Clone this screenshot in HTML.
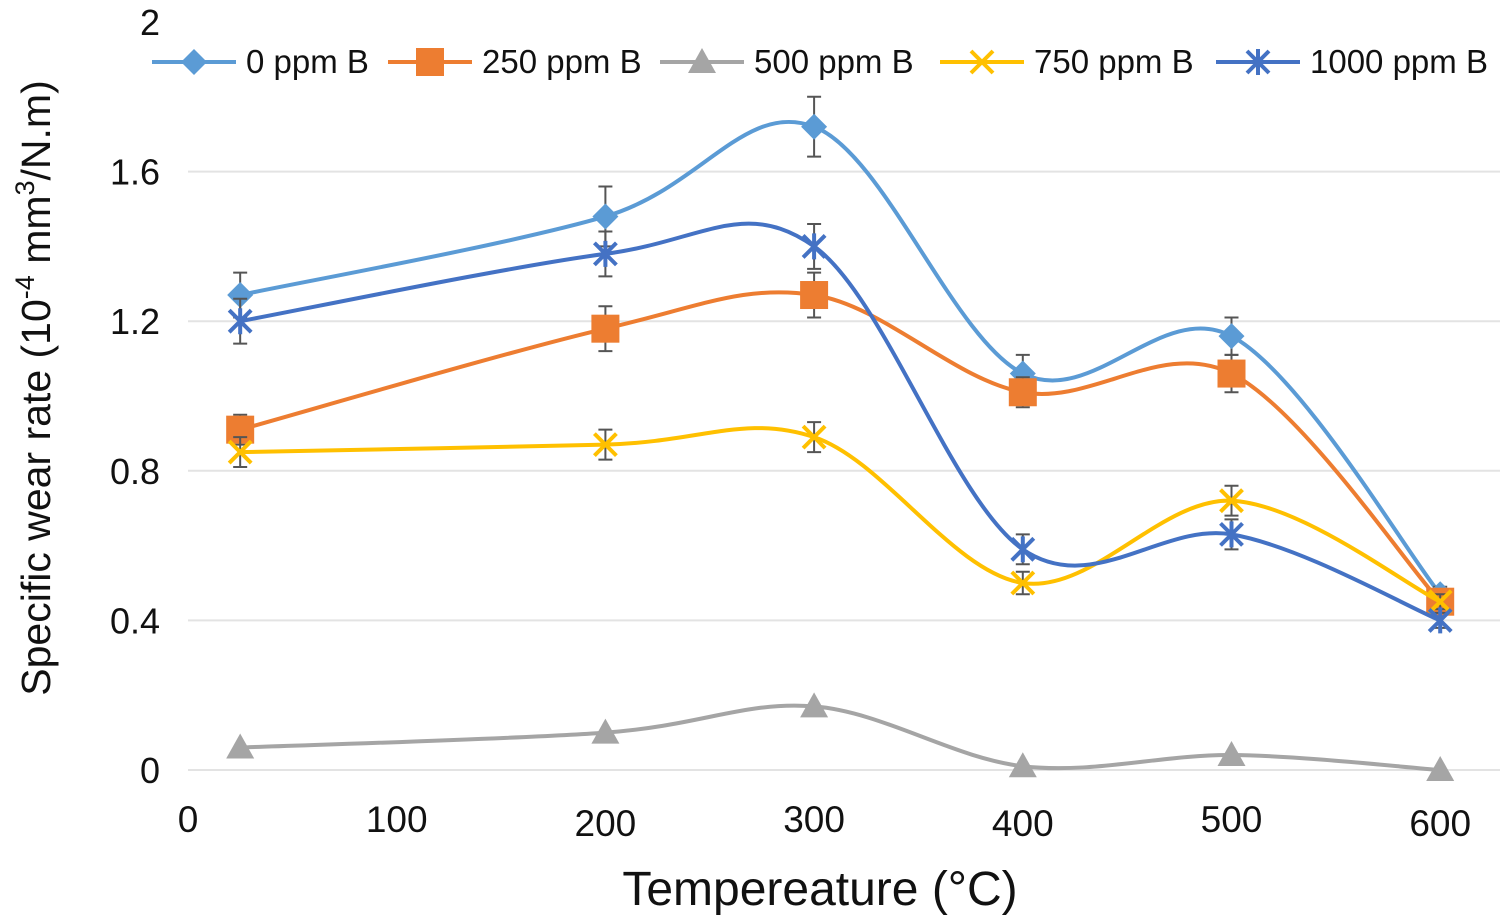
<!DOCTYPE html>
<html><head><meta charset="utf-8"><style>
html,body{margin:0;padding:0;background:#fff;}
svg{display:block;font-family:"Liberation Sans",Arial,sans-serif;}
</style></head><body>
<svg id="chart" width="1504" height="917" viewBox="0 0 1504 917"></svg>
<script>
const xTicks=[0,100,200,300,400,500,600];
const yTicks=[0,0.4,0.8,1.2,1.6,2];
const yTickLabels=["0","0.4","0.8","1.2","1.6","2"];
const temps=[25,200,300,400,500,600];
const seriesNames=["0 ppm B","250 ppm B","500 ppm B","750 ppm B","1000 ppm B"];
const s0=[1.27,1.48,1.72,1.06,1.16,0.47];
const s250=[0.91,1.18,1.27,1.01,1.06,0.45];
const s500=[0.06,0.10,0.17,0.01,0.04,0.00];
const s750=[0.85,0.87,0.89,0.50,0.72,0.45];
const s1000=[1.20,1.38,1.40,0.59,0.63,0.40];
const err0=[0.06,0.08,0.08,0.05,0.05,0.02];
const err250=[0.04,0.06,0.06,0.04,0.05,0.02];
const err500=[0,0,0,0,0,0];
const err750=[0.04,0.04,0.04,0.03,0.04,0.02];
const err1000=[0.06,0.06,0.06,0.04,0.04,0.02];

const colors=["#5b9bd5","#ed7d31","#a5a5a5","#ffc000","#4472c4"];
const allS=[s0,s250,s500,s750,s1000];
const allE=[err0,err250,err500,err750,err1000];
const markers=["diamond","square","triangle","x","star"];
const NS="http://www.w3.org/2000/svg";
const svg=document.getElementById('chart');
const X=v=>188+v*2.087;
const Y=v=>770-v*374;
function mk(t,a,p){const e=document.createElementNS(NS,t);for(const k in a)e.setAttribute(k,a[k]);(p||svg).appendChild(e);return e;}

yTicks.forEach((v,i)=>{
  if(v>0&&v<2){const g=mk('line',{x1:188,x2:1500,y1:Y(v),y2:Y(v),stroke:'#e3e3e3','stroke-width':2});
  
  }
  const t=mk('text',{x:160,y:Y(v)+13,'font-size':36,'text-anchor':'end',fill:'#111'});t.textContent=yTickLabels[i];
  
  
});
const ax=mk('line',{x1:188,x2:1500,y1:Y(0),y2:Y(0),stroke:'#e3e3e3','stroke-width':2});


xTicks.forEach(v=>{
  const t=mk('text',{x:X(v),y:v%200===0&&v>0?836:832,'font-size':37,'text-anchor':'middle',fill:'#111'});t.textContent=v;
  
  
});
const xt=mk('text',{x:820,y:905,'font-size':48,'text-anchor':'middle',fill:'#111'});xt.textContent='Tempereature (°C)';


const yt=mk('text',{transform:'translate(50,388) rotate(-90)','font-size':41,'text-anchor':'middle',fill:'#111'});
yt.innerHTML='Specific wear rate (10<tspan dy="-16" font-size="27">-4</tspan><tspan dy="16"> mm</tspan><tspan dy="-16" font-size="27">3</tspan><tspan dy="16">/N.m)</tspan>';



function smooth(pts){
  let d='M'+pts[0][0]+','+pts[0][1];
  for(let i=0;i<pts.length-1;i++){
    const p0=pts[i-1]||pts[i],p1=pts[i],p2=pts[i+1],p3=pts[i+2]||p2;const k=6;
    d+=` C${p1[0]+(p2[0]-p0[0])/k},${p1[1]+(p2[1]-p0[1])/k} ${p2[0]-(p3[0]-p1[0])/k},${p2[1]-(p3[1]-p1[1])/k} ${p2[0]},${p2[1]}`;
  }return d;}
function marker(type,x,y,c,g){
  let e;
  if(type==='diamond')e=mk('polygon',{points:`${x},${y-13} ${x+13},${y} ${x},${y+13} ${x-13},${y}`,fill:c},g);
  else if(type==='square')e=mk('rect',{x:x-14,y:y-14,width:28,height:28,fill:c},g);
  else if(type==='triangle')e=mk('polygon',{points:`${x},${y-14} ${x+14},${y+11} ${x-14},${y+11}`,fill:c},g);
  else if(type==='x')e=mk('path',{d:`M${x-11},${y-11}L${x+11},${y+11}M${x+11},${y-11}L${x-11},${y+11}`,stroke:c,'stroke-width':4,fill:'none'},g);
  else e=mk('path',{d:`M${x-11},${y-11}L${x+11},${y+11}M${x+11},${y-11}L${x-11},${y+11}M${x},${y-13}L${x},${y+13}`,stroke:c,'stroke-width':4,fill:'none'},g);
  return e;}
allS.forEach((s,si)=>{
  const g=mk('g',{});
  
  
  const pts=s.map((v,i)=>[X(temps[i]),Y(v)]);
  mk('path',{d:smooth(pts),fill:'none',stroke:colors[si],'stroke-width':4},g);
  s.forEach((v,i)=>{
    const e=allE[si][i];
    if(e>0){const x=X(temps[i]);
      mk('path',{d:`M${x},${Y(v+e)}L${x},${Y(v-e)}M${x-7},${Y(v+e)}L${x+7},${Y(v+e)}M${x-7},${Y(v-e)}L${x+7},${Y(v-e)}`,stroke:'#555','stroke-width':2,fill:'none'},g);}
    const m=marker(markers[si],X(temps[i]),Y(v),colors[si],g);
    
    
  });
});
const legX=[152,388,660,940,1216];
seriesNames.forEach((n,i)=>{
  const g=mk('g',{});
  
  
  const x=legX[i],y=62;
  mk('line',{x1:x,x2:x+84,y1:y,y2:y,stroke:colors[i],'stroke-width':4},g);
  marker(markers[i],x+42,y,colors[i],g);
  const t=mk('text',{x:x+94,y:y+11,'font-size':33,fill:'#111'},g);t.textContent=n;
});
</script>
</body></html>
